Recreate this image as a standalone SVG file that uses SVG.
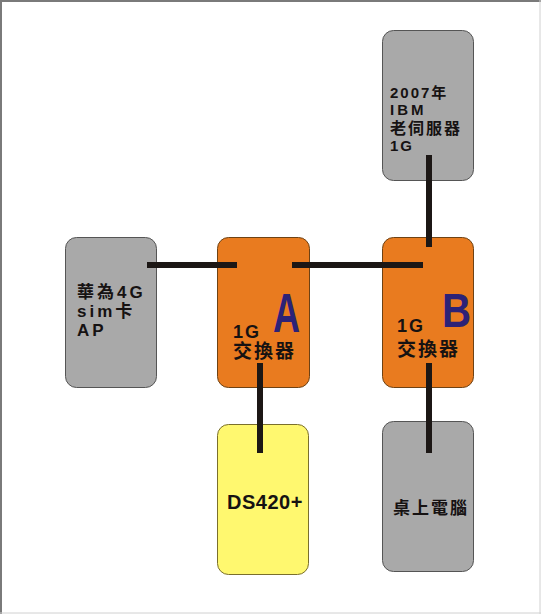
<svg xmlns="http://www.w3.org/2000/svg" width="541" height="614" viewBox="0 0 541 614">
<style>
.gray{fill:#a9a9a9;stroke:#555555;stroke-width:1}
.orange{fill:#e97b1f;stroke:#6e4214;stroke-width:1}
.yellow{fill:#fff86f;stroke:#7a6f2c;stroke-width:1}
.t{font-family:"Liberation Sans","Noto Sans CJK TC",sans-serif;font-weight:bold;fill:#161212}
.big{font-family:"Liberation Sans",sans-serif;font-weight:bold;fill:#2c2277}
.conn line{stroke:#1c1715;stroke-width:6}
</style>
<rect x="0" y="0" width="541" height="614" fill="#ffffff"/>
<line x1="0" y1="1" x2="541" y2="1" stroke="#7a7a7a" stroke-width="2"/>
<line x1="1" y1="0" x2="1" y2="614" stroke="#7a7a7a" stroke-width="2"/>
<line x1="540" y1="0" x2="540" y2="614" stroke="#d0d0d0" stroke-width="1"/>
<line x1="0" y1="613" x2="541" y2="613" stroke="#d0d0d0" stroke-width="1"/>

<g id="server">
<rect class="gray" x="382.5" y="30.5" width="91" height="150" rx="11"/>
<text class="t" font-size="15" letter-spacing="2"><tspan x="390" y="98">2007年</tspan><tspan x="390" y="115" letter-spacing="3">IBM</tspan><tspan x="390" y="134" font-size="16" letter-spacing="2">老伺服器</tspan><tspan x="390" y="151">1G</tspan></text>
</g>

<g id="ap">
<rect class="gray" x="65.5" y="237.5" width="91" height="150" rx="11"/>
<text class="t" font-size="17" letter-spacing="3"><tspan x="77" y="298">華為4G</tspan><tspan x="77" y="317">sim卡</tspan><tspan x="77" y="336">AP</tspan></text>
</g>

<g id="switchA">
<rect class="orange" x="217.5" y="237.5" width="92" height="150" rx="11"/>
<text class="big" font-size="56" transform="translate(273,332) scale(0.67,1)">A</text>
<text class="t" font-size="19" letter-spacing="2"><tspan x="233" y="338" font-size="18">1G</tspan><tspan x="233" y="358">交換器</tspan></text>
</g>

<g id="switchB">
<rect class="orange" x="382.5" y="237.5" width="91" height="150" rx="11"/>
<text class="big" font-size="48" transform="translate(442,327) scale(0.84,1)">B</text>
<text class="t" font-size="19" letter-spacing="2"><tspan x="397" y="332" font-size="18">1G</tspan><tspan x="397" y="356">交換器</tspan></text>
</g>

<g id="nas">
<rect class="yellow" x="217.5" y="424.5" width="91" height="150" rx="11"/>
<text class="t" x="227" y="509" font-size="20" letter-spacing="0.5">DS420+</text>
</g>

<g id="desktop">
<rect class="gray" x="382.5" y="421.5" width="91" height="150" rx="11"/>
<text class="t" x="393" y="514" font-size="17" letter-spacing="2">桌上電腦</text>
</g>

<g id="connectors" class="conn">
<line x1="147" y1="265" x2="237" y2="265"/>
<line x1="292" y1="265" x2="423" y2="265"/>
<line x1="429" y1="155" x2="429" y2="247"/>
<line x1="260" y1="363" x2="260" y2="453"/>
<line x1="429" y1="363" x2="429" y2="453"/>
</g>
</svg>
